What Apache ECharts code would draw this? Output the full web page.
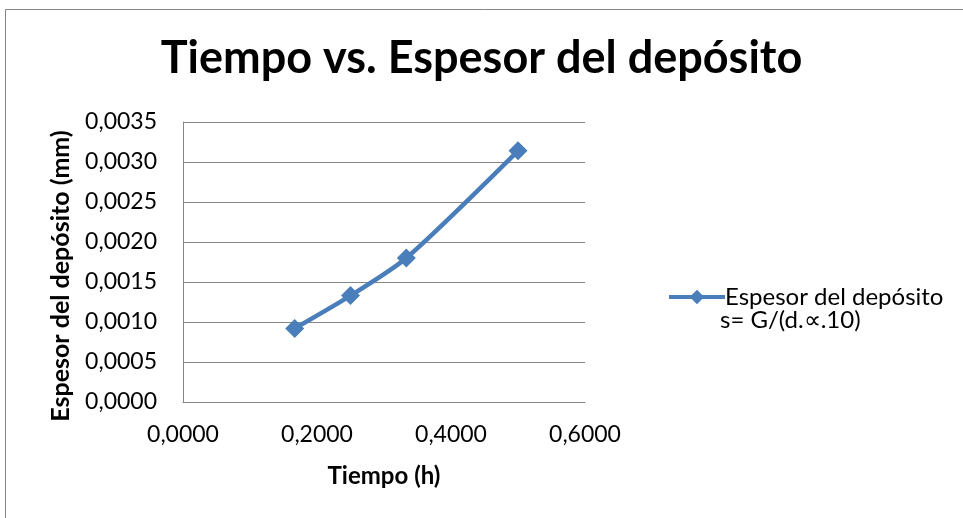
<!DOCTYPE html>
<html>
<head>
<meta charset="utf-8">
<script src="https://cdn.jsdelivr.net/npm/echarts@6/dist/echarts.min.js"></script>
<style>html,body{margin:0;padding:0;background:#fff}#c{width:963px;height:518px}</style>
</head>
<body>
<div id="c"></div>
<script>
const timeHours = [0.1667, 0.25, 0.3333, 0.5];
const thicknessMm = [0.00092, 0.00133, 0.00180, 0.00314];
const seriesName = 'Espesor del depósito';
const seriesNameLine2 = 's= G/(d.∝.10)';
const titleText = 'Tiempo vs. Espesor del depósito';
const xAxisName = 'Tiempo (h)';
const yAxisName = 'Espesor del depósito (mm)';

const FONT = 'Lato, "Open Sans", sans-serif';
const fmt = v => v.toFixed(4).replace('.', ',');
const chart = echarts.init(document.getElementById('c'));
chart.setOption({
  animation: false,
  backgroundColor: '#fff',
  title: {
    text: titleText, left: 'center', top: 31,
    textStyle: {fontFamily: FONT, fontSize: 45, fontWeight: 'bold', color: '#000'}
  },
  grid: {left: 183, top: 122, width: 402, height: 280},
  xAxis: {
    type: 'value', min: 0, max: 0.6, interval: 0.2,
    name: xAxisName, nameLocation: 'middle', nameGap: 62,
    nameTextStyle: {fontFamily: FONT, fontSize: 24, fontWeight: 'bold', color: '#000'},
    axisLine: {show: true, lineStyle: {color: '#868686', width: 1}},
    axisTick: {show: false},
    splitLine: {show: false},
    axisLabel: {formatter: fmt, fontFamily: FONT, fontSize: 23, color: '#000', margin: 21}
  },
  yAxis: {
    type: 'value', min: 0, max: 0.0035, interval: 0.0005,
    name: yAxisName, nameLocation: 'middle', nameGap: 110, nameRotate: 90,
    nameTextStyle: {fontFamily: FONT, fontSize: 25, fontWeight: 'bold', color: '#000', padding: [0, 28, 0, 0]},
    axisLine: {show: true, lineStyle: {color: '#868686', width: 1}},
    axisTick: {show: false},
    splitLine: {show: true, lineStyle: {color: '#868686', width: 1}},
    axisLabel: {formatter: fmt, fontFamily: FONT, fontSize: 23, color: '#000', margin: 26}
  },
  legend: {
    left: 662, top: 280,
    itemWidth: 56, itemHeight: 18, itemGap: 0,
    data: [seriesName],
    lineStyle: {width: 4, color: '#4a7ebb'},
    textStyle: {fontFamily: FONT, fontSize: 24, color: '#000', padding: [0, 0, 0, -5]}
  },
  graphic: [
    {type: 'rect', shape: {x: 5.5, y: 9.5, width: 1000, height: 600}, style: {fill: 'none', stroke: '#868686', lineWidth: 1}, silent: true, z: -1},
    {type: 'text', left: 720, top: 308, style: {text: seriesNameLine2, fontFamily: FONT, fontSize: 24, fill: '#000'}}
  ],
  series: [{
    name: seriesName,
    type: 'line',
    data: timeHours.map((x, i) => [x, thicknessMm[i]]),
    smooth: 0.25,
    symbol: 'diamond', symbolSize: 19,
    lineStyle: {color: '#4a7ebb', width: 4.5},
    itemStyle: {color: '#4a7ebb'}
  }]
});
</script>
</body>
</html>
